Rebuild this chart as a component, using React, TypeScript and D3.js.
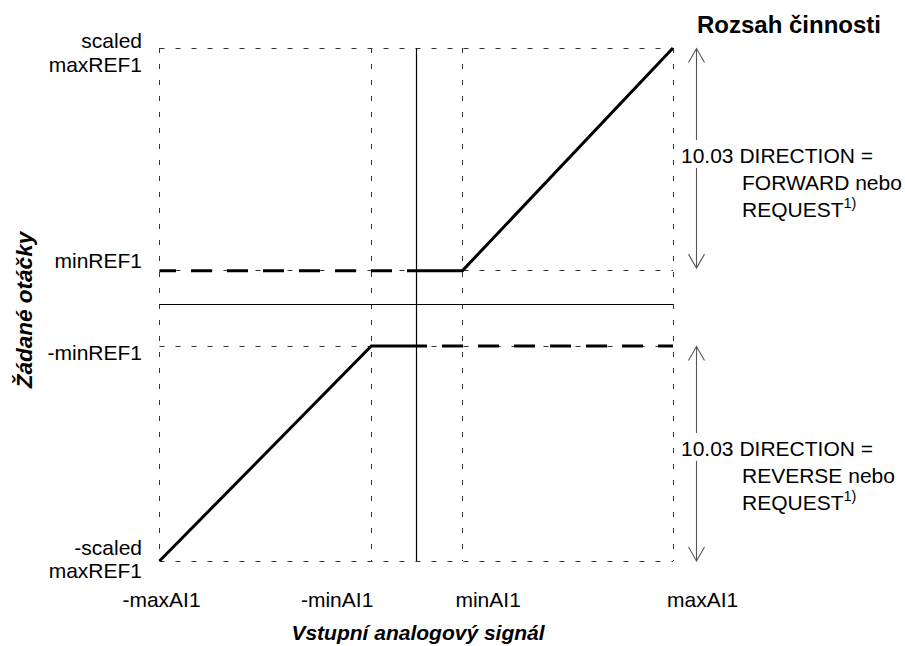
import React from 'react';
import * as d3 from 'd3';

// ---------- data ----------
const xTickValues = [-10, -1.75, 1.8, 10];
const xTickLabels = ['-maxAI1', '-minAI1', 'minAI1', 'maxAI1'];
const yTickValues = [10, 1.32, -1.62, -10];
const yTickLabels = [['scaled', 'maxREF1'], ['minREF1'], ['-minREF1'], ['-scaled', 'maxREF1']];

const upperSolid: [number, number][] = [[-0.36, 1.32], [1.8, 1.32], [10, 10]];
const upperDashed: [number, number][] = [[-0.36, 1.32], [-10, 1.32]];
const lowerSolid: [number, number][] = [[-10, -10], [-1.75, -1.62], [0.42, -1.62]];
const lowerDashed: [number, number][] = [[0.42, -1.62], [10, -1.62]];

const upperArrow: [number, number] = [10, 1.32];
const lowerArrow: [number, number] = [-1.62, -10];
const upperNote = ['10.03 DIRECTION =', 'FORWARD nebo', 'REQUEST'];
const lowerNote = ['10.03 DIRECTION =', 'REVERSE nebo', 'REQUEST'];
const noteSup = '1)';

const title = 'Rozsah činnosti';
const xTitle = 'Vstupní analogový signál';
const yTitle = 'Žádané otáčky';

// ---------- layout ----------
const W = 905, H = 646;
const FONT = '"Liberation Sans", Arial, Helvetica, sans-serif';
const FS = 21;
const xScale = d3.scaleLinear().domain([-10, 10]).range([159.5, 673]);
const yScale = d3.scaleLinear().domain([-10, 10]).range([561, 48]);
const line = d3.line<[number, number]>().x(d => xScale(d[0])).y(d => yScale(d[1]));
const crisp = (v: number) => Math.round(v - 0.5) + 0.5;

// per-label layout: anchor and offset relative to gridline
const xLabelLayout = [
  { anchor: 'middle', dx: 2 },
  { anchor: 'end', dx: 2 },
  { anchor: 'start', dx: -7 },
  { anchor: 'start', dx: -6 },
];
const yLabelDy = [[0, 24], [-3], [14], [-6, 17]];
const ARROW_X = 696.5;

function Arrow({ y0, y1 }: { y0: number; y1: number }) {
  const dir = Math.sign(y1 - y0);
  const hw = 8, hl = 14;
  return (
    <g stroke="#555" strokeWidth={1.1} fill="none">
      <line x1={ARROW_X} x2={ARROW_X} y1={y0} y2={y1} />
      <path d={`M${ARROW_X - hw},${y0 + dir * hl}L${ARROW_X},${y0}L${ARROW_X + hw},${y0 + dir * hl}`} />
      <path d={`M${ARROW_X - hw},${y1 - dir * hl}L${ARROW_X},${y1}L${ARROW_X + hw},${y1 - dir * hl}`} />
    </g>
  );
}

function Note({ lines, y }: { lines: string[]; y: number }) {
  return (
    <g fontFamily={FONT} fontSize={FS} fill="#000">
      <rect x={ARROW_X - 6} y={y - 23} width={12} height={28} fill="#fff" />
      <text x={681} y={y}>{lines[0]}</text>
      <text x={742} y={y + 27}>{lines[1]}</text>
      <text x={742} y={y + 54}>
        {lines[2]}
        <tspan fontSize={14.5} dy={-9}>{noteSup}</tspan>
      </text>
    </g>
  );
}

export default function App() {
  const x0 = xScale(-10), x1 = xScale(10);
  const yTop = yScale(10), yBot = yScale(-10);
  return (
    <svg width={W} height={H} style={{ position: 'absolute', left: 0, top: 0, background: '#fff' }}>
      <rect width={W} height={H} fill="#fff" />
      {/* dotted grid */}
      <g stroke="#333" strokeWidth={1} strokeDasharray="5 11">
        {xTickValues.map((v, i) => (
          <line key={'vx' + i} x1={crisp(xScale(v))} x2={crisp(xScale(v))} y1={yTop} y2={yBot} />
        ))}
        {yTickValues.map((v, i) => (
          <line key={'hy' + i} x1={x0} x2={x1} y1={crisp(yScale(v))} y2={crisp(yScale(v))} />
        ))}
      </g>
      {/* center axes */}
      <g stroke="#000" strokeWidth={1.2}>
        <line x1={crisp(xScale(0))} x2={crisp(xScale(0))} y1={yTop} y2={yBot} />
        <line x1={x0} x2={x1} y1={crisp(yScale(0))} y2={crisp(yScale(0))} />
      </g>
      {/* characteristic */}
      <g fill="none" stroke="#000" strokeWidth={3}>
        <path d={line(upperSolid) || ''} />
        <path d={line(lowerSolid) || ''} />
        <path d={line(upperDashed) || ''} strokeDasharray="21 15" strokeDashoffset={21} />
        <path d={line(lowerDashed) || ''} strokeDasharray="21 15" strokeDashoffset={21} />
      </g>
      {/* arrows */}
      <Arrow y0={yScale(upperArrow[0]) + 0.5} y1={yScale(upperArrow[1]) - 2.5} />
      <Arrow y0={yScale(lowerArrow[0]) + 0.5} y1={yScale(lowerArrow[1])} />
      <Note lines={upperNote} y={163} />
      <Note lines={lowerNote} y={456} />
      {/* y tick labels */}
      <g fontFamily={FONT} fontSize={FS} fill="#000" textAnchor="end">
        {yTickLabels.map((ls, i) => ls.map((t, j) => (
          <text key={i + '-' + j} x={142} y={yScale(yTickValues[i]) + yLabelDy[i][j]}>{t}</text>
        )))}
      </g>
      {/* x tick labels */}
      <g fontFamily={FONT} fontSize={FS} fill="#000">
        {xTickLabels.map((t, i) => (
          <text key={i} x={xScale(xTickValues[i]) + xLabelLayout[i].dx} y={607}
            textAnchor={xLabelLayout[i].anchor as any}>{t}</text>
        ))}
      </g>
      {/* titles */}
      <text x={697} y={33} fontFamily={FONT} fontSize={24} fontWeight="bold">{title}</text>
      <text x={418} y={640} fontFamily={FONT} fontSize={21} fontWeight="bold" fontStyle="italic"
        textAnchor="middle">{xTitle}</text>
      <text transform={`translate(32,310) rotate(-90)`} fontFamily={FONT} fontSize={22.5}
        fontWeight="bold" fontStyle="italic" textAnchor="middle">{yTitle}</text>
    </svg>
  );
}
